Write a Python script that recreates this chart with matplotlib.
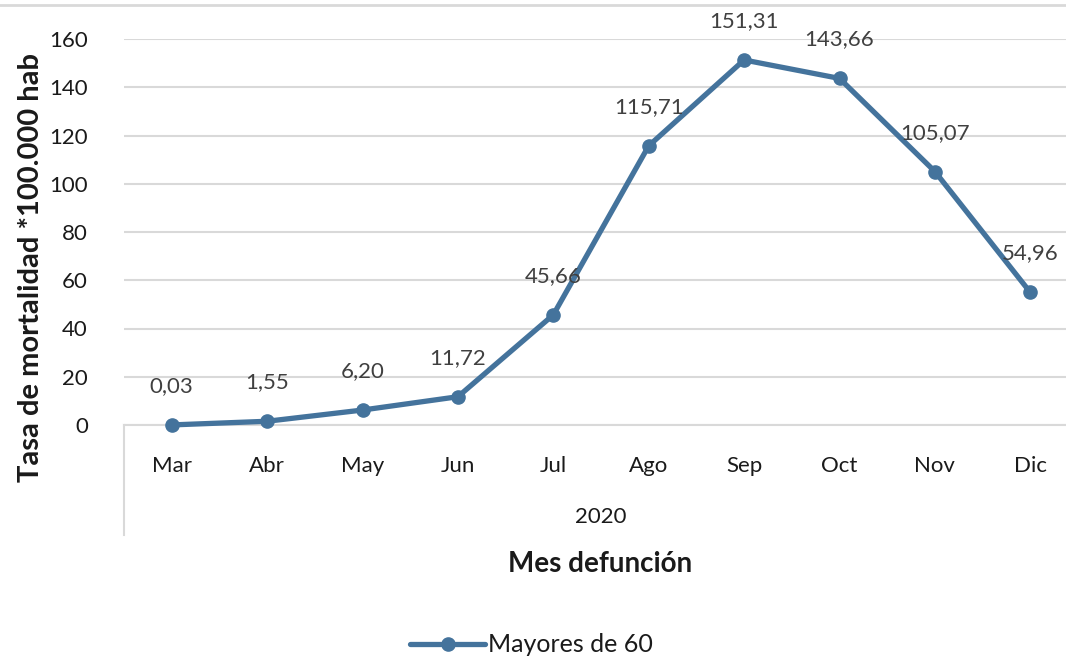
import matplotlib
matplotlib.use("Agg")
import matplotlib.pyplot as plt
from matplotlib.lines import Line2D

months = ["Mar", "Abr", "May", "Jun", "Jul", "Ago", "Sep", "Oct", "Nov", "Dic"]
values = [0.03, 1.55, 6.20, 11.72, 45.66, 115.71, 151.31, 143.66, 105.07, 54.96]
labels = ["0,03", "1,55", "6,20", "11,72", "45,66", "115,71", "151,31", "143,66", "105,07", "54,96"]
year = "2020"
series_name = "Mayores de 60"

plt.rcParams['font.family'] = ['Lato', 'DejaVu Sans']

W, H = 1066, 660
fig = plt.figure(figsize=(W / 100, H / 100), dpi=100)
fig.patch.set_facecolor("white")

left_px, right_px, top_px, bot_px = 124, 1078, 39, 425
ax = fig.add_axes([left_px / W, 1 - bot_px / H, (right_px - left_px) / W, (bot_px - top_px) / H])

color = "#44739c"
x = list(range(len(months)))
ax.plot(x, values, color=color, lw=3.8, marker="o", ms=9.5, label=series_name,
        solid_capstyle="round", zorder=3, clip_on=False)

for xi, v, lab in zip(x, values, labels):
    ax.annotate(lab, (xi, v), xytext=(0, 28), textcoords="offset points",
                ha="center", va="center", fontsize=16, color="#404040", zorder=4)

ax.set_xlim(-0.5, len(months) - 0.5)
ax.set_ylim(0, 160)
ax.set_yticks(range(0, 161, 20))
ax.set_xticks(x)
ax.set_xticklabels(months)
ax.tick_params(axis="both", length=0, labelsize=16, labelcolor="#1a1a1a")
ax.tick_params(axis="y", pad=26)
ax.tick_params(axis="x", pad=22)
ax.grid(axis="y", color="#d9d9d9", lw=1.5)
ax.set_axisbelow(True)
for s in ["top", "right", "left"]:
    ax.spines[s].set_visible(False)
ax.spines["bottom"].set_color("#d9d9d9")
ax.spines["bottom"].set_linewidth(1.5)

# category group separator line and year label
trans = ax.get_xaxis_transform()
ax.add_line(Line2D([-0.5, -0.5], [0, -(535 - 425) / (425 - 39)], transform=trans,
                   color="#d9d9d9", lw=1.5, clip_on=False))
ax.text((len(months) - 1) / 2, -(517 - 425) / (425 - 39), year, transform=trans,
        ha="center", va="center", fontsize=16, color="#1a1a1a")

fig.text(600 / W, 1 - 564 / H, "Mes defunción", ha="center", va="center",
         fontsize=20, fontweight="bold", color="#1a1a1a")
fig.text(31 / W, 1 - 267 / H, "Tasa de mortalidad *100.000 hab", ha="center", va="center",
         rotation=90, fontsize=21, fontweight="bold", color="#1a1a1a")

# top border line
fig.add_artist(Line2D([0, 1], [1 - 5 / H, 1 - 5 / H], transform=fig.transFigure,
                      color="#d9d9d9", lw=2))

leg = fig.legend(loc="center left", bbox_to_anchor=(410 / W, 1 - 645 / H), frameon=False,
                 fontsize=18, handlelength=3.0, handletextpad=0.1, labelcolor="#1a1a1a",
                 borderaxespad=0, borderpad=0)

fig.savefig("out.png", dpi=100, facecolor="white")
